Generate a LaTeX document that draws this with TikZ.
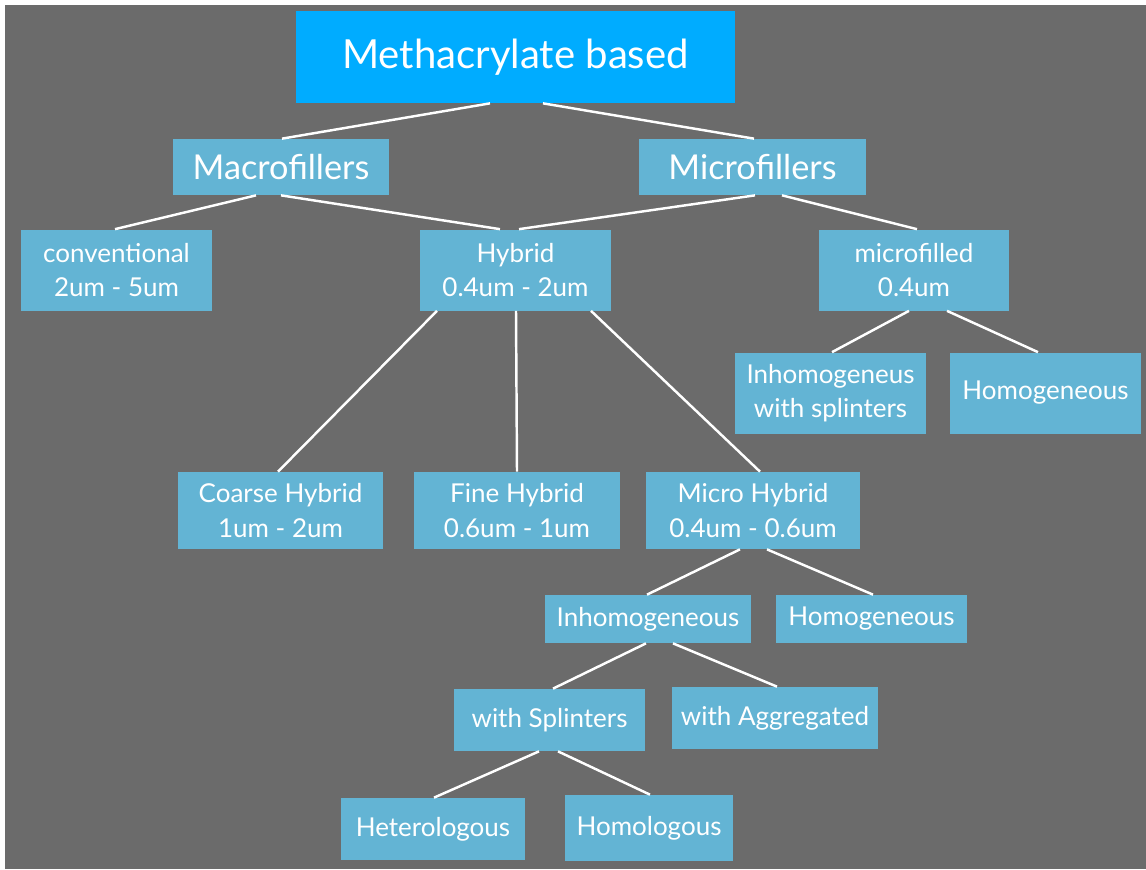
\documentclass[tikz,border=0pt]{standalone}
\usepackage{fontspec}
\setmainfont{Lato}
\usetikzlibrary{calc}
\definecolor{bgray}{RGB}{107,107,107}
\definecolor{boxblue}{RGB}{99,180,212}
\definecolor{topblue}{RGB}{0,172,255}
\tikzset{
  box/.style={fill=boxblue, text=white, align=center, inner sep=0pt,
    font=\fontsize{14.8}{19.5}\selectfont},
  sz/.style 2 args={minimum width=#1*0.02cm, minimum height=#2*0.02cm},
  link/.style={white, line width=1.4pt}
}
\begin{document}
\begin{tikzpicture}[x=0.02cm, y=-0.02cm]
  \def\Ya{57};   % top
  \def\Yb{167};  % fillers
  \def\Yc{270};  % classes
  \def\Yd{393};  % microfilled kinds
  \def\Ye{510.5};% hybrid kinds
  \def\Yf{619};
  \def\Yg{719};
  \def\Yh{828.5};
  % background
  \useasboundingbox (0,0) rectangle (1146,869);
  \fill[white] (0,0) rectangle (1146,869);
  \fill[bgray] (5,5) rectangle (1146,869);

  % root
  \node[box, sz={439}{92}, fill=topblue, font=\fontsize{22.8}{28}\selectfont] (meth) at (515.5,\Ya) {Methacrylate based};

  % fillers
  \node[box, sz={216}{56}, font=\fontsize{19.5}{24}\selectfont] (mac) at (281,\Yb) {Macrofillers};
  \node[box, sz={227}{56}, font=\fontsize{19.5}{24}\selectfont] (mic) at (752.5,\Yb) {Microfillers};

  % classes
  \node[box, sz={191}{81}] (conv) at (116.5,\Yc) {conventional\\2um - 5um};
  \node[box, sz={191}{81}] (hyb) at (515.5,\Yc) {Hybrid\\0.4um - 2um};
  \node[box, sz={190}{81}] (mfd) at (914,\Yc) {microfilled\\0.4um};

  % microfilled kinds
  \node[box, sz={191}{81}] (inhs) at (830.5,\Yd) {Inhomogeneus\\with splinters};
  \node[box, sz={191}{81}] (homr) at (1045.5,\Yd) {Homogeneous};

  % hybrid kinds
  \node[box, sz={205}{77}] (coarse) at (280.5,\Ye) {Coarse Hybrid\\1um - 2um};
  \node[box, sz={206}{77}] (fine) at (517,\Ye) {Fine Hybrid\\0.6um - 1um};
  \node[box, sz={214}{77}] (micro) at (753,\Ye) {Micro Hybrid\\0.4um - 0.6um};

  % micro hybrid kinds
  \node[box, sz={206}{48}] (inh) at (648,\Yf) {Inhomogeneous};
  \node[box, sz={191}{48}] (homm) at (871.5,\Yf) {Homogeneous};
  \node[box, sz={191}{62}] (spl) at (549.5,720) {with Splinters};
  \node[box, sz={206}{62}] (agg) at (775,718) {with Aggregated};
  \node[box, sz={184}{62}] (het) at (433,829) {Heterologous};
  \node[box, sz={168}{66}] (hom) at (649,828) {Homologous};

  % links
  \draw[link] ($(meth.south)+(-25.5,0)$) -- ($(mac.north)+(1,0)$);
  \draw[link] ($(meth.south)+(27.5,0)$) -- ($(mic.north)+(1.5,0)$);
  \draw[link] ($(mac.south)+(-25,0)$) -- ($(conv.north)+(-1.5,0)$);
  \draw[link] (mac.south) -- ($(hyb.north)+(-15.5,0)$);
  \draw[link] ($(mic.south)+(2.5,0)$) -- ($(hyb.north)+(3.5,0)$);
  \draw[link] ($(mic.south)+(29.5,0)$) -- ($(mfd.north)+(3,0)$);
  \draw[link] ($(hyb.south)+(-78.5,0)$) -- ($(coarse.north)+(-2.5,0)$);
  \draw[link] ($(hyb.south)+(0.5,0)$) -- (fine.north);
  \draw[link] ($(hyb.south)+(75.5,0)$) -- ($(micro.north)+(7,0)$);
  \draw[link] ($(mfd.south)+(-5,0)$) -- ($(inhs.north)+(1.5,0)$);
  \draw[link] ($(mfd.south)+(33,0)$) -- ($(homr.north)+(-7.5,0)$);
  \draw[link] ($(micro.south)+(-13,0)$) -- ($(inh.north)+(-1,0)$);
  \draw[link] ($(micro.south)+(14,0)$) -- ($(homm.north)+(1.5,0)$);
  \draw[link] ($(inh.south)+(-2,0)$) -- ($(spl.north)+(3.5,0)$);
  \draw[link] ($(inh.south)+(25,0)$) -- ($(agg.north)+(2,0)$);
  \draw[link] ($(spl.south)+(-10.5,0)$) -- ($(het.north)+(1,0)$);
  \draw[link] ($(spl.south)+(8.5,0)$) -- ($(hom.north)+(1,0)$);
\end{tikzpicture}
\end{document}
